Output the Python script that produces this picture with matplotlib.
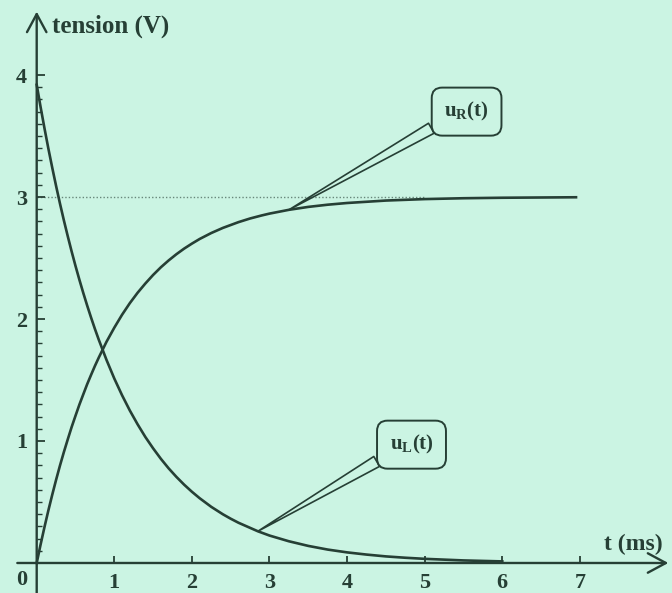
import matplotlib
matplotlib.use("Agg")
import matplotlib.pyplot as plt
from matplotlib.ticker import FixedLocator

plt.rcParams.update({
    'font.family': 'Liberation Serif',
    'font.weight': 'bold',
    'mathtext.fontset': 'custom',
    'mathtext.rm': 'Liberation Serif:bold',
    'mathtext.it': 'Liberation Serif:bold',
    'mathtext.bf': 'Liberation Serif:bold',
})

# tension aux bornes de la bobine (V), t en ms
t_L = [0.0, 0.05, 0.1, 0.15, 0.2, 0.25, 0.3, 0.35, 0.4, 0.45, 0.5, 0.55, 0.6,
       0.65, 0.7, 0.75, 0.8, 0.9, 1.0, 1.1, 1.2, 1.3, 1.4, 1.5, 1.6, 1.7,
       1.8, 1.9, 2.0, 2.1, 2.25, 2.4, 2.5, 2.6, 2.85, 3.0, 3.25, 3.5, 3.75,
       4.0, 4.25, 4.5, 4.75, 5.0, 5.5, 6.0]
u_L = [3.920, 3.738, 3.564, 3.398, 3.241, 3.090, 2.946, 2.809, 2.679, 2.554,
       2.435, 2.322, 2.214, 2.111, 2.013, 1.919, 1.830, 1.664, 1.512, 1.375,
       1.250, 1.137, 1.033, 0.940, 0.854, 0.776, 0.706, 0.642, 0.584, 0.531,
       0.460, 0.399, 0.363, 0.330, 0.260, 0.225, 0.178, 0.140, 0.110, 0.087,
       0.069, 0.054, 0.043, 0.034, 0.021, 0.013]

# tension aux bornes du resistor (V)
t_R = [0.0, 0.05, 0.1, 0.15, 0.2, 0.25, 0.3, 0.35, 0.4, 0.45, 0.5, 0.55, 0.6,
       0.65, 0.7, 0.75, 0.8, 0.9, 1.0, 1.1, 1.2, 1.3, 1.4, 1.5, 1.6, 1.7,
       1.8, 1.9, 2.0, 2.1, 2.25, 2.4, 2.6, 2.75, 2.9, 3.0, 3.25, 3.5, 3.75,
       4.0, 4.5, 5.0, 5.5, 6.0, 6.95]
u_R = [0.000, 0.151, 0.294, 0.430, 0.559, 0.682, 0.799, 0.909, 1.013, 1.114,
       1.207, 1.298, 1.382, 1.465, 1.541, 1.615, 1.684, 1.814, 1.929, 2.035,
       2.130, 2.215, 2.291, 2.361, 2.424, 2.480, 2.531, 2.577, 2.618, 2.656,
       2.705, 2.747, 2.794, 2.824, 2.849, 2.864, 2.895, 2.919, 2.937, 2.951,
       2.971, 2.983, 2.990, 2.994, 2.998]

E_final = 3.0
x_ticks = [1, 2, 3, 4, 5, 6, 7]
y_ticks = [1, 2, 3, 4]

bg = '#cbf4e3'
ink = '#263f35'

fig = plt.figure(figsize=(6.72, 5.93), dpi=100, facecolor=bg)
ax = fig.add_axes([0, 0, 1, 1], facecolor=bg)
ax.set_xlim(-0.473, 8.187)
ax.set_ylim(-0.246, 4.615)

for s in ax.spines.values():
    s.set_visible(False)
ax.spines['left'].set_position(('data', 0))
ax.spines['bottom'].set_position(('data', 0))

# axes fléchés
arrow = dict(arrowstyle='->,head_length=0.65,head_width=0.35', lw=1.7,
             color=ink, shrinkA=0, shrinkB=0, mutation_scale=20)
ax.annotate('', xy=(8.14, 0), xytext=(-0.25, 0), arrowprops=arrow)
ax.annotate('', xy=(0, 4.52), xytext=(0, -0.25), arrowprops=arrow)

ax.set_xticks(x_ticks)
ax.set_xticklabels([str(v) for v in x_ticks])
ax.set_yticks(y_ticks)
ax.set_yticklabels([str(v) for v in y_ticks])
ax.yaxis.set_minor_locator(FixedLocator([k / 10 for k in range(1, 40) if k % 10]))
ax.tick_params(axis='x', direction='in', length=5, width=1.3, color=ink,
               labelsize=16, labelcolor=ink, pad=7)
ax.tick_params(axis='y', which='major', direction='in', length=6, width=1.3,
               color=ink, labelsize=16, labelcolor=ink, pad=7)
ax.tick_params(axis='y', which='minor', direction='in', length=3.5, width=1.0,
               color=ink)

ax.text(-0.19, -0.14, '0', fontsize=16, color=ink, ha='center', va='center')
ax.text(0.2, 4.40, 'tension (V)', fontsize=18, color=ink, ha='left', va='center')
ax.text(8.06, 0.15, 't (ms)', fontsize=17, color=ink, ha='right', va='center')

# asymptote
ax.plot([0, 5.0], [E_final, E_final], color=ink, lw=1.0, ls=(0, (1, 1.5)),
        alpha=0.6)

ax.plot(t_L, u_L, color=ink, lw=1.9, solid_joinstyle='round')
ax.plot(t_R, u_R, color=ink, lw=1.9, solid_joinstyle='round')

# étiquettes des courbes
wedge = dict(arrowstyle='wedge,tail_width=0.55', fc=bg, ec=ink, lw=1.2,
             relpos=(0.0, 0.1), shrinkA=0, shrinkB=0)
box = dict(boxstyle='round,pad=0.6,rounding_size=0.5', fc=bg, ec=ink, lw=1.4)
ax.annotate(r'$\mathrm{u_R(t)}$', xy=(t_R[36], u_R[36]), xytext=(5.54, 3.70),
            fontsize=15, color=ink, ha='center', va='center',
            bbox=box, arrowprops=wedge)
ax.annotate(r'$\mathrm{u_L(t)}$', xy=(t_L[34], u_L[34]), xytext=(4.83, 0.97),
            fontsize=15, color=ink, ha='center', va='center',
            bbox=box, arrowprops=wedge)

fig.savefig('out.png', dpi=100, facecolor=bg)
